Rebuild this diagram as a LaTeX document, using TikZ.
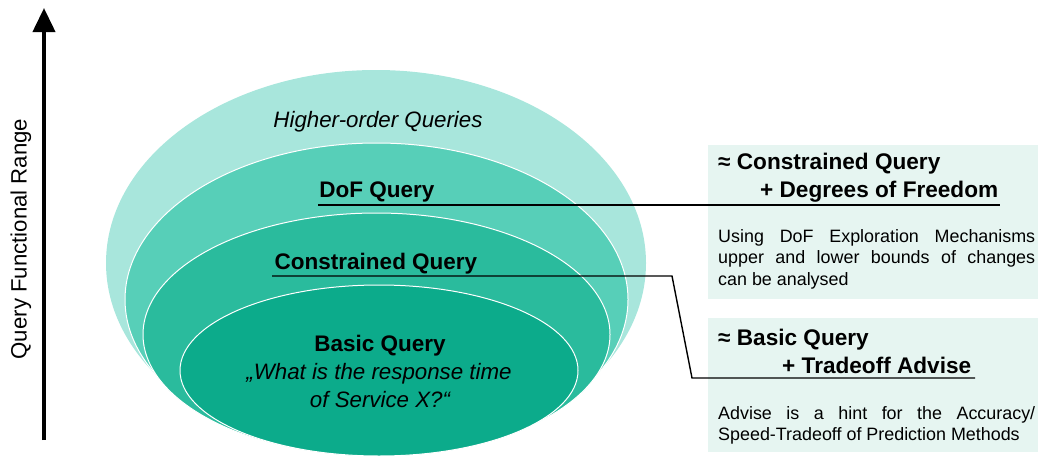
\documentclass[tikz,border=0pt]{standalone}
\usepackage{fontspec}
\setmainfont{Liberation Sans}
\usetikzlibrary{shapes.geometric,arrows.meta}
\hyphenpenalty=10000
\exhyphenpenalty=10000
\definecolor{outerC}{RGB}{168,230,220}
\definecolor{dofC}{RGB}{87,207,184}
\definecolor{conC}{RGB}{42,187,157}
\definecolor{basC}{RGB}{12,171,139}
\definecolor{boxC}{RGB}{230,245,241}
\tikzset{
  ring/.style={ellipse, inner sep=0pt, draw=white, line width=1pt},
  lbl/.style={anchor=base, inner sep=0pt, font=\fontsize{22.5}{26}\selectfont\bfseries},
  ilbl/.style={anchor=base, inner sep=0pt, font=\fontsize{22.3}{26}\selectfont\itshape},
  head/.style={anchor=base west, inner sep=0pt, font=\fontsize{22.6}{26}\selectfont\bfseries},
  body/.style={anchor=north west, inner sep=0pt, text width=317pt, align=justify, font=\fontsize{17.9}{21.7}\selectfont},
  panel/.style={fill=boxC, draw=none},
  conn/.style={draw=black, line width=1.4pt},
}
\begin{document}
\begin{tikzpicture}[x=1pt,y=-1pt]
\useasboundingbox (0,0) rectangle (1040,455);
% axis arrow
\coordinate (arrB) at (44,440);
\coordinate (arrT) at (44,8);
\draw[line width=4pt, -{Triangle[width=22pt,length=24pt]}] (arrB) -- (arrT);
\node[rotate=90, inner sep=0pt, font=\fontsize{22.2}{26}\selectfont] (axis) at (21,239) {Query Functional Range};
% ellipses
\node[ellipse, inner sep=0pt, fill=outerC, minimum width=540pt, minimum height=386pt] (outer) at (376,263) {};
\node[ring, fill=dofC, minimum width=503pt, minimum height=313pt] (dof) at (376.5,299.5) {};
\node[ring, fill=conC, minimum width=467pt, minimum height=243pt] (con) at (376.5,334.5) {};
\node[ring, fill=basC, minimum width=398pt, minimum height=171pt] (bas) at (379,370.5) {};
% labels
\node[ilbl] (hoq) at (378,127.5) {Higher-order Queries};
\node[lbl] (dofL) at (377,197.5) {DoF Query};
\node[lbl] (conL) at (376,269.5) {Constrained Query};
\node[lbl] (basL) at (380,351) {Basic Query};
\node[ilbl] (q1) at (379,379) {„What is the response time};
\node[ilbl] (q2) at (380,407) {of Service X?“};
% panels
\node[panel, anchor=north west, minimum width=330pt, minimum height=154pt, inner sep=0pt] (p1) at (708,145) {};
\node[panel, anchor=north west, minimum width=330pt, minimum height=134pt, inner sep=0pt] (p2) at (708,318) {};
\node[head] (h1a) at (718,169.5) {≈ Constrained Query};
\node[head] (h1b) at (760,197.5) {+ Degrees of Freedom};
\node[body] (b1) at (718,229) {Using DoF Exploration Mechanisms\linebreak upper and lower bounds of changes\linebreak can be analysed};
\node[head] (h2a) at (718,345.5) {≈ Basic Query};
\node[head] (h2b) at (782,373.5) {+ Tradeoff Advise};
\node[body] (b2) at (718,406) {Advise is a hint for the Accuracy/\linebreak Speed-Tradeoff of Prediction Methods};
% connectors
\coordinate (dofS) at (318,205);
\coordinate (dofE) at (1000,205);
\coordinate (conS) at (272,276);
\coordinate (conK1) at (672,276);
\coordinate (conK2) at (692,378);
\coordinate (conE) at (975,378);
\draw[conn] (dofS) -- (dofE);
\draw[conn] (conS) -- (conK1) -- (conK2) -- (conE);
\end{tikzpicture}
\end{document}
